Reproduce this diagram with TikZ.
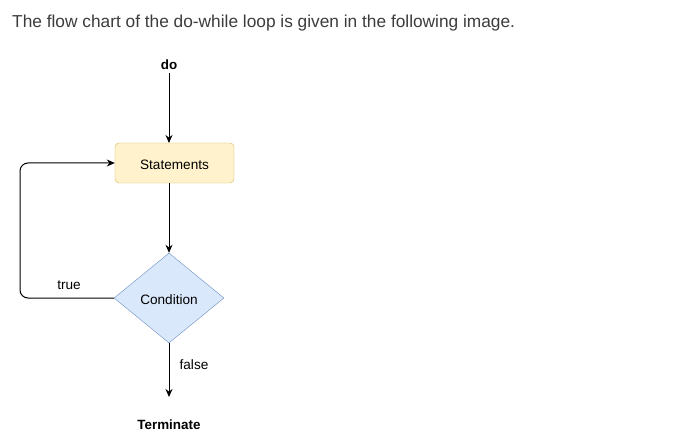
\documentclass[tikz,border=0pt]{standalone}
\usepackage{fontspec}
\setmainfont{Liberation Sans}
\usetikzlibrary{shapes.geometric,arrows.meta}
\definecolor{titlegray}{HTML}{3C3C3C}
\definecolor{stfill}{HTML}{FFF2CC}
\definecolor{stdraw}{HTML}{D6B656}
\definecolor{cdfill}{HTML}{DAE8FC}
\definecolor{cddraw}{HTML}{6C8EBF}
\newcommand{\lowerby}[1]{\raisebox{-1.5pt}[\height][\depth]{#1}}
\tikzset{
  x=1pt, y=-1pt,
  lbl/.style={font=\fontsize{13.6}{16}\selectfont, inner sep=0pt},
  blbl/.style={font=\fontsize{13.4}{16}\selectfont\bfseries, inner sep=0pt},
  stbox/.style={draw=stdraw, fill=stfill, rounded corners=4pt, minimum width=119pt, minimum height=40pt, inner sep=0pt, font=\fontsize{13.6}{16}\selectfont},
  cond/.style={draw=cddraw, fill=cdfill, diamond, minimum width=110pt, minimum height=90pt, inner sep=0pt, aspect=1.222, font=\fontsize{13.6}{16}\selectfont},
  conn/.style={line width=1pt, -{Stealth[length=8pt,width=7pt]}},
}
\begin{document}
\begin{tikzpicture}
\useasboundingbox (0,0) rectangle (674,446);
\node[anchor=base west, inner sep=0pt, text=titlegray, font=\fontsize{17.3}{20}\selectfont] (title) at (12,28) {The flow chart of the do-while loop is given in the following image.};
\node[blbl] (do) at (169,65) {do};
\node[stbox] (st) at (174.5,163) {\lowerby{Statements}};
\node[cond] (cd) at (169,298) {\lowerby{Condition}};
\node[blbl] (term) at (169,425) {Terminate};
\coordinate (doend) at (169,73);
\coordinate (termtop) at (169,397);
\coordinate (stbot) at (169,183);
\coordinate (sttop) at (169,143);
\draw[conn] (doend) -- (sttop);
\draw[conn] (stbot) -- (cd.north);
\draw[conn] (cd.south) -- (termtop);
\draw[conn, rounded corners=8pt] (cd.west) -| (20,163) -- (st.west);
\node[lbl] (true) at (69,285) {true};
\node[lbl] (false) at (194,365) {false};
\end{tikzpicture}
\end{document}
